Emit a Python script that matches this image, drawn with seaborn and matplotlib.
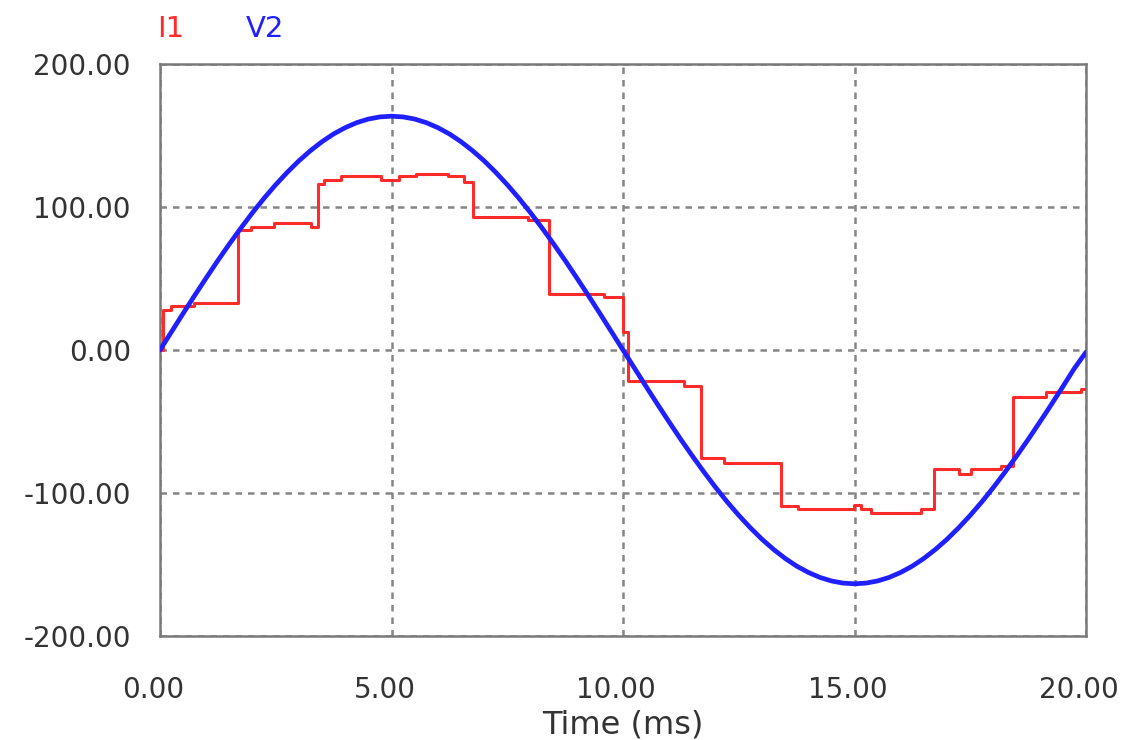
import numpy as np
import pandas as pd
import matplotlib
matplotlib.use("Agg")
import matplotlib.pyplot as plt
from matplotlib.transforms import ScaledTranslation
import seaborn as sns

# ---- data -------------------------------------------------------------
# I1: stepped line current (A), held from each time to the next
i1_time = [0.00, 0.06, 0.24, 0.73, 1.68, 1.97, 2.46, 3.26, 3.41, 3.54,
           3.91, 4.77, 5.16, 5.53, 6.21, 6.57, 6.75, 7.94, 8.40, 9.59,
           9.99, 10.10, 11.32, 11.68, 12.18, 13.41, 13.77, 14.99, 15.15, 15.36,
           16.44, 16.72, 17.26, 17.52, 18.16, 18.42, 19.14, 19.89, 20.00]
i1_value = [0.0, 28.0, 31.0, 32.7, 83.7, 85.8, 88.8, 86.0, 116.4, 118.7,
            121.5, 118.7, 121.5, 123.4, 121.5, 117.5, 93.0, 90.7, 39.3, 37.4,
            12.3, -21.5, -25.0, -75.3, -78.8, -109.0, -111.5, -108.5, -111.5, -113.9,
            -111.5, -83.5, -86.5, -83.5, -81.0, -33.2, -29.7, -27.4, -27.4]

# V2: supply voltage (V), sampled every 0.25 ms
v2_time = [0.00, 0.25, 0.50, 0.75, 1.00, 1.25, 1.50, 1.75, 2.00, 2.25,
           2.50, 2.75, 3.00, 3.25, 3.50, 3.75, 4.00, 4.25, 4.50, 4.75,
           5.00, 5.25, 5.50, 5.75, 6.00, 6.25, 6.50, 6.75, 7.00, 7.25,
           7.50, 7.75, 8.00, 8.25, 8.50, 8.75, 9.00, 9.25, 9.50, 9.75,
           10.00, 10.25, 10.50, 10.75, 11.00, 11.25, 11.50, 11.75, 12.00, 12.25,
           12.50, 12.75, 13.00, 13.25, 13.50, 13.75, 14.00, 14.25, 14.50, 14.75,
           15.00, 15.25, 15.50, 15.75, 16.00, 16.25, 16.50, 16.75, 17.00, 17.25,
           17.50, 17.75, 18.00, 18.25, 18.50, 18.75, 19.00, 19.25, 19.50, 19.75,
           20.00]
v2_value = [0.0, 12.8, 25.6, 38.2, 50.5, 62.6, 74.2, 85.4, 96.1, 106.2,
            115.6, 124.3, 132.3, 139.4, 145.7, 151.1, 155.5, 159.0, 161.5, 163.0,
            163.5, 163.0, 161.5, 159.0, 155.5, 151.1, 145.7, 139.4, 132.3, 124.3,
            115.6, 106.2, 96.1, 85.4, 74.2, 62.6, 50.5, 38.2, 25.6, 12.8,
            0.0, -12.8, -25.6, -38.2, -50.5, -62.6, -74.2, -85.4, -96.1, -106.2,
            -115.6, -124.3, -132.3, -139.4, -145.7, -151.1, -155.5, -159.0, -161.5, -163.0,
            -163.5, -163.0, -161.5, -159.0, -155.5, -151.1, -145.7, -139.4, -132.3, -124.3,
            -115.6, -106.2, -96.1, -85.4, -74.2, -62.6, -50.5, -38.2, -25.6, -12.8,
            -1.5]

x_ticks = [0, 5, 10, 15, 20]
x_tick_labels = ["0.00", "5.00", "10.00", "15.00", "20.00"]
y_ticks = [-200, -100, 0, 100, 200]
y_tick_labels = ["-200.00", "-100.00", "0.00", "100.00", "200.00"]

df_i1 = pd.DataFrame({"t": i1_time, "val": i1_value})
df_v2 = pd.DataFrame({"t": v2_time, "val": v2_value})

# ---- style ------------------------------------------------------------
sns.set_theme(style="white")
plt.rcParams["font.family"] = ["DejaVu Sans"]

RED = "#ff2a2a"
BLUE = "#1f1fff"
GRID = "#858585"
FRAME = "#7a7a7a"
TEXT = "#333333"

fig = plt.figure(figsize=(11.22, 7.40), dpi=100)
ax = fig.add_axes([160 / 1122, 1 - 636 / 740, (1086 - 160) / 1122, (636 - 64) / 740])

sns.lineplot(data=df_i1, x="t", y="val", ax=ax, color=RED, linewidth=2.2,
             drawstyle="steps-post", estimator=None, sort=False, zorder=3)
sns.lineplot(data=df_v2, x="t", y="val", ax=ax, color=BLUE, linewidth=3.4,
             estimator=None, sort=False, zorder=4)

ax.set_xlim(0, 20)
ax.set_ylim(-200, 200)
ax.set_xticks(x_ticks)
ax.set_xticklabels(x_tick_labels)
ax.set_yticks(y_ticks)
ax.set_yticklabels(y_tick_labels)
ax.tick_params(axis="x", length=0, pad=29, labelsize=20, labelcolor=TEXT)
ax.tick_params(axis="y", length=0, pad=21, labelsize=20, labelcolor=TEXT)

# x tick labels sit a little left of their grid lines
shift = ScaledTranslation(-7 / 100, 0, fig.dpi_scale_trans)
for lab in ax.get_xticklabels():
    lab.set_transform(lab.get_transform() + shift)

ax.grid(True, color=GRID, linewidth=1.8, linestyle=(0, (2.6, 2.4)))
for side in ax.spines.values():
    side.set_visible(True)
    side.set_color(FRAME)
    side.set_linewidth(1.8)

ax.set_xlabel("Time (ms)", fontsize=23, color=TEXT, labelpad=4)
ax.set_ylabel("")

# series names above the plot
fig.text(157 / 1122, 1 - 37 / 740, "I1", color=RED, fontsize=21,
         ha="left", va="baseline")
fig.text(246 / 1122, 1 - 37 / 740, "V2", color=BLUE, fontsize=21,
         ha="left", va="baseline")

fig.savefig("out.png", dpi=100)
